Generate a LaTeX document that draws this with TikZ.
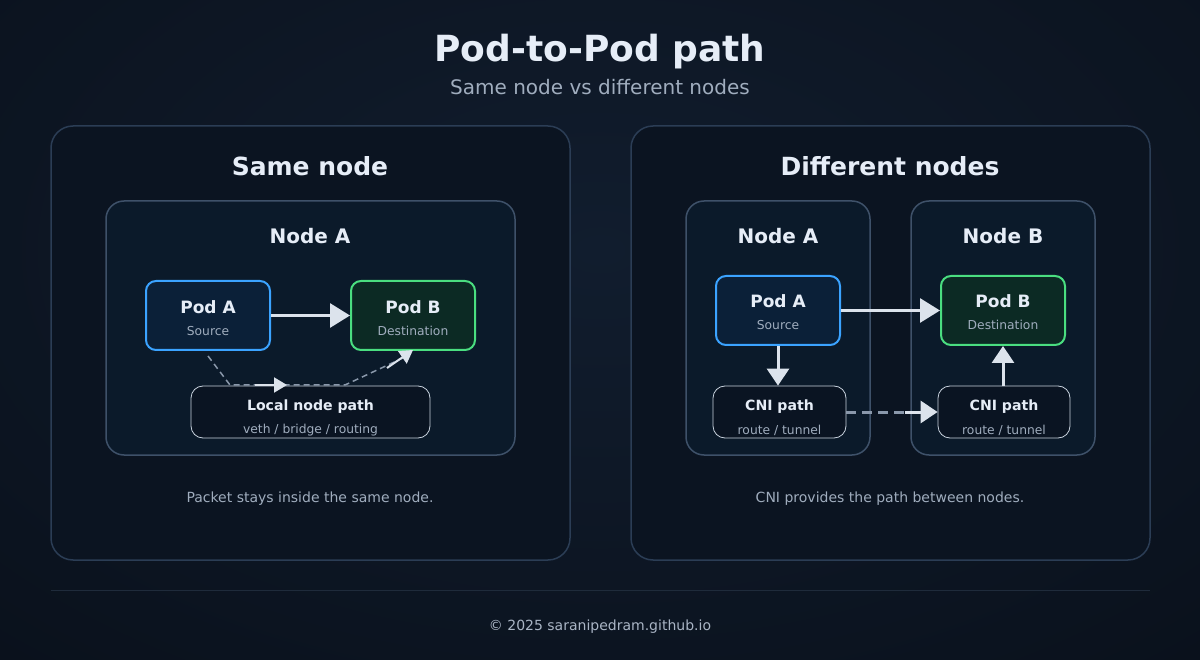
\documentclass[tikz,border=0pt]{standalone}
\usepackage{fontspec}
\setmainfont{DejaVu Sans}
\usetikzlibrary{arrows.meta}
\definecolor{bgA}{HTML}{0A111C}
\definecolor{bgB}{HTML}{111D2E}
\definecolor{panelfill}{HTML}{0B1421}
\definecolor{panelline}{HTML}{2B3D55}
\definecolor{nodefill}{HTML}{0B1A2A}
\definecolor{nodeline}{HTML}{3E5169}
\definecolor{podAfill}{HTML}{0B2038}
\definecolor{podAline}{HTML}{3BA3FF}
\definecolor{podBfill}{HTML}{0C2A24}
\definecolor{podBline}{HTML}{4ADE80}
\definecolor{pathfill}{HTML}{0A1422}
\definecolor{pathline}{HTML}{C8D2DE}
\definecolor{txt}{HTML}{E6EDF7}
\definecolor{subtxt}{HTML}{A0ADBE}
\definecolor{arr}{HTML}{DCE3EC}
\definecolor{dash}{HTML}{8A98AB}
\definecolor{rule}{HTML}{1F2B3B}
\tikzset{
  x=1pt, y=-1pt,
  panel/.style={draw=panelline, line width=1.5pt, fill=panelfill, rounded corners=22pt},
  nodebox/.style={draw=nodeline, line width=1.5pt, fill=nodefill, rounded corners=18pt},
  podA/.style={draw=podAline, line width=2pt, fill=podAfill, rounded corners=10pt},
  podB/.style={draw=podBline, line width=2pt, fill=podBfill, rounded corners=10pt},
  pathbox/.style={draw=pathline, line width=0.8pt, fill=pathfill, rounded corners=12pt},
  title/.style={text=txt, font=\bfseries\fontsize{36}{42}\selectfont},
  subtitle/.style={text=subtxt, font=\fontsize{20}{24}\selectfont},
  ptitle/.style={text=txt, font=\bfseries\fontsize{25}{30}\selectfont},
  ntitle/.style={text=txt, font=\bfseries\fontsize{20}{24}\selectfont},
  podtxt/.style={text=txt, font=\bfseries\fontsize{17}{20}\selectfont},
  smalltxt/.style={text=subtxt, font=\fontsize{12.3}{15}\selectfont},
  pathtxt/.style={text=txt, font=\bfseries\fontsize{14.1}{17}\selectfont},
  captxt/.style={text=subtxt, font=\fontsize{14}{17}\selectfont},
  bigarrow/.style={draw=arr, line width=3pt, -{Triangle[length=20pt,width=24pt]}},
  midarrow/.style={draw=arr, line width=3pt, -{Triangle[length=17pt,width=22pt]}},
  smallarrow/.style={draw=arr, line width=2pt, -{Triangle[length=13pt,width=15pt]}},
  dashline/.style={draw=dash, line width=3pt, dash pattern=on 10pt off 6pt},
  thindash/.style={draw=dash, line width=1.5pt, dash pattern=on 6pt off 4pt},
}
\begin{document}
\begin{tikzpicture}
\useasboundingbox (0,0) rectangle (1200,660);
\shade[inner color=bgB, outer color=bgA] (-300,-300) rectangle (1500,800);

% title
\node[title] (t) at (600,52) {Pod-to-Pod path};
\node[subtitle] (st) at (600,87) {Same node vs different nodes};

% panels
\draw[panel] (51,126) rectangle (570,560);
\draw[panel] (631,126) rectangle (1150,560);
\node[ptitle] (p1) at (310,166) {Same node};
\node[ptitle] (p2) at (890,166) {Different nodes};

% ---- left panel
\draw[nodebox] (106,201) rectangle (515,455);
\node[ntitle] (lna) at (310,236) {Node A};
\node[podA, minimum width=124pt, minimum height=69pt] (lpa) at (208,315.5) {};
\node[podtxt] at (208,307) {Pod A};
\node[smalltxt] at (208,331) {Source};
\node[podB, minimum width=124pt, minimum height=69pt] (lpb) at (413,315.5) {};
\node[podtxt] at (413,307) {Pod B};
\node[smalltxt] at (413,331) {Destination};
\draw[bigarrow] (lpa.east) -- (lpb.west);
\node[pathbox, minimum width=239pt, minimum height=52pt] (lpath) at (310.5,412) {};
\node[pathtxt] at (310.5,407) {Local node path};
\node[smalltxt] at (310.5,430) {veth / bridge / routing};
\coordinate (d1) at (208,356);
\coordinate (d2) at (230,385);
\coordinate (d3) at (345,385);
\coordinate (d4) at (405,357);
\draw[thindash] (d1) -- (d2) -- (d3) -- (d4);
\coordinate (m1) at (255,385);
\coordinate (m2) at (287,385);
\draw[smallarrow] (m1) -- (m2);
\coordinate (m3) at (387,368);
\coordinate (m4) at (413,350);
\draw[smallarrow] (m3) -- (m4);
\node[captxt] (c1) at (310,499) {Packet stays inside the same node.};

% ---- right panel
\draw[nodebox] (686,201) rectangle (870,455);
\draw[nodebox] (911,201) rectangle (1095,455);
\node[ntitle] (rna) at (778,236) {Node A};
\node[ntitle] (rnb) at (1003,236) {Node B};
\node[podA, minimum width=124pt, minimum height=69pt] (rpa) at (778,310.5) {};
\node[podtxt] at (778,301) {Pod A};
\node[smalltxt] at (778,325) {Source};
\node[podB, minimum width=124pt, minimum height=69pt] (rpb) at (1003,310.5) {};
\node[podtxt] at (1003,301) {Pod B};
\node[smalltxt] at (1003,325) {Destination};
\draw[bigarrow] (rpa.east) -- (rpb.west);
\node[pathbox, minimum width=133pt, minimum height=52pt] (rc1) at (779.5,412) {};
\node[pathtxt] at (779.5,407) {CNI path};
\node[smalltxt] at (779.5,430) {route / tunnel};
\node[pathbox, minimum width=132pt, minimum height=52pt] (rc2) at (1004,412) {};
\node[pathtxt] at (1004,407) {CNI path};
\node[smalltxt] at (1004,430) {route / tunnel};
\draw[midarrow] (rpa.south) -- (rpa.south |- rc1.north);
\draw[midarrow] (rc2.north -| rpb.south) -- (rpb.south);
\coordinate (q1) at (905,412);
\draw[dashline] (rc1.east) -- (q1);
\draw[midarrow] (q1) -- (rc2.west);
\node[captxt] (c2) at (890,499) {CNI provides the path between nodes.};

% footer
\coordinate (r1) at (51,590);
\coordinate (r2) at (1150,590);
\draw[rule, line width=1pt] (r1) -- (r2);
\node[captxt, font=\fontsize{14}{17}\selectfont, text=subtxt!90!white] (ft) at (600,627) {© 2025 saranipedram.github.io};
\end{tikzpicture}
\end{document}
